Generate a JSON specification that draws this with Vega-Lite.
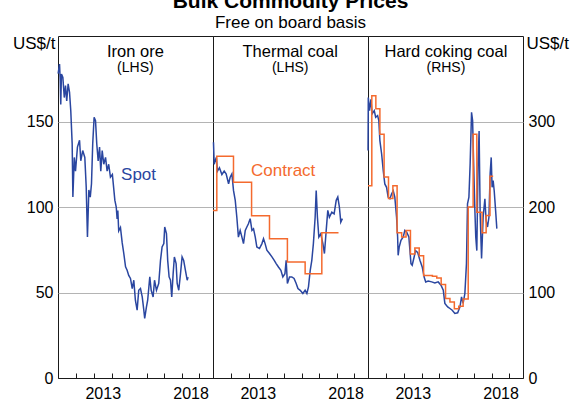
{
  "$schema": "https://vega.github.io/schema/vega-lite/v6.json",
  "background": "white",
  "padding": {"left": 11, "top": -10, "right": 0, "bottom": 0},
  "bounds": "flush",
  "title": {
    "text": "Bulk Commodity Prices",
    "subtitle": "Free on board basis",
    "anchor": "middle",
    "fontSize": 21,
    "fontWeight": "bold",
    "subtitleFontSize": 17,
    "subtitlePadding": 3,
    "offset": 3,
    "color": "#000000",
    "subtitleColor": "#000000"
  },
  "spacing": 0,
  "datasets": {
    "iron": [
      {"t": 2010.96, "v": 178}, {"t": 2011.04, "v": 183.6}, {"t": 2011.08, "v": 173.9}, {"t": 2011.11, "v": 160},
      {"t": 2011.15, "v": 177.8}, {"t": 2011.23, "v": 175.8}, {"t": 2011.31, "v": 164}, {"t": 2011.38, "v": 171},
      {"t": 2011.45, "v": 162}, {"t": 2011.53, "v": 172}, {"t": 2011.61, "v": 167}, {"t": 2011.68, "v": 156.4},
      {"t": 2011.76, "v": 137}, {"t": 2011.80, "v": 105.8}, {"t": 2011.88, "v": 129}, {"t": 2011.95, "v": 121},
      {"t": 2012.06, "v": 135}, {"t": 2012.18, "v": 139}, {"t": 2012.25, "v": 127}, {"t": 2012.36, "v": 133},
      {"t": 2012.48, "v": 129}, {"t": 2012.56, "v": 111.6}, {"t": 2012.63, "v": 82.4}, {"t": 2012.71, "v": 110},
      {"t": 2012.79, "v": 105.8}, {"t": 2012.86, "v": 113.6}, {"t": 2012.93, "v": 137}, {"t": 2013.01, "v": 152.5},
      {"t": 2013.09, "v": 150.5}, {"t": 2013.16, "v": 137}, {"t": 2013.24, "v": 127}, {"t": 2013.32, "v": 135},
      {"t": 2013.39, "v": 121}, {"t": 2013.47, "v": 133}, {"t": 2013.56, "v": 125}, {"t": 2013.66, "v": 129},
      {"t": 2013.75, "v": 121}, {"t": 2013.84, "v": 125}, {"t": 2013.94, "v": 117.5}, {"t": 2014.05, "v": 119},
      {"t": 2014.19, "v": 104}, {"t": 2014.27, "v": 100}, {"t": 2014.32, "v": 93}, {"t": 2014.36, "v": 98},
      {"t": 2014.41, "v": 86}, {"t": 2014.51, "v": 88}, {"t": 2014.61, "v": 79}, {"t": 2014.70, "v": 72.8},
      {"t": 2014.80, "v": 65}, {"t": 2014.89, "v": 63}, {"t": 2014.98, "v": 60}, {"t": 2015.08, "v": 58.2},
      {"t": 2015.18, "v": 52.3}, {"t": 2015.27, "v": 57.2}, {"t": 2015.36, "v": 45.5}, {"t": 2015.46, "v": 39.7},
      {"t": 2015.55, "v": 51.3}, {"t": 2015.65, "v": 52.3}, {"t": 2015.75, "v": 47.4}, {"t": 2015.84, "v": 39.7},
      {"t": 2015.89, "v": 34.8}, {"t": 2015.99, "v": 41.6}, {"t": 2016.06, "v": 45.5}, {"t": 2016.18, "v": 59.1},
      {"t": 2016.26, "v": 51.3}, {"t": 2016.37, "v": 47.4}, {"t": 2016.45, "v": 57.2}, {"t": 2016.56, "v": 51.3},
      {"t": 2016.69, "v": 55.3}, {"t": 2016.79, "v": 68.8}, {"t": 2016.88, "v": 76.6}, {"t": 2016.98, "v": 78.6},
      {"t": 2017.03, "v": 88.3}, {"t": 2017.13, "v": 84.4}, {"t": 2017.20, "v": 68.8}, {"t": 2017.28, "v": 59.1},
      {"t": 2017.36, "v": 57.2}, {"t": 2017.43, "v": 47.4}, {"t": 2017.51, "v": 61}, {"t": 2017.58, "v": 70.8},
      {"t": 2017.68, "v": 66.9}, {"t": 2017.74, "v": 55.3}, {"t": 2017.83, "v": 51.3}, {"t": 2017.93, "v": 61},
      {"t": 2018.02, "v": 70.8}, {"t": 2018.11, "v": 68.8}, {"t": 2018.21, "v": 63}, {"t": 2018.31, "v": 57.2},
      {"t": 2018.36, "v": 59}
    ],
    "thermalSpot": [
      {"t": 2010.98, "v": 137.9}, {"t": 2011.02, "v": 125}, {"t": 2011.14, "v": 129}, {"t": 2011.21, "v": 121},
      {"t": 2011.32, "v": 123}, {"t": 2011.46, "v": 119}, {"t": 2011.59, "v": 121}, {"t": 2011.70, "v": 119.4},
      {"t": 2011.84, "v": 113.6}, {"t": 2011.93, "v": 117.4}, {"t": 2012.03, "v": 119.4}, {"t": 2012.12, "v": 109.7},
      {"t": 2012.22, "v": 103.9}, {"t": 2012.31, "v": 94}, {"t": 2012.40, "v": 82.4}, {"t": 2012.50, "v": 86.3},
      {"t": 2012.60, "v": 82.4}, {"t": 2012.69, "v": 78.6}, {"t": 2012.79, "v": 86.3}, {"t": 2012.88, "v": 88.3},
      {"t": 2012.97, "v": 90.2}, {"t": 2013.07, "v": 93.2}, {"t": 2013.17, "v": 86.3}, {"t": 2013.26, "v": 87.3},
      {"t": 2013.36, "v": 82.4}, {"t": 2013.45, "v": 76.6}, {"t": 2013.60, "v": 75.7}, {"t": 2013.74, "v": 78.6},
      {"t": 2013.83, "v": 81.5}, {"t": 2013.92, "v": 78.6}, {"t": 2014.02, "v": 74.7}, {"t": 2014.17, "v": 72.8},
      {"t": 2014.31, "v": 70.8}, {"t": 2014.44, "v": 68.8}, {"t": 2014.55, "v": 66.9}, {"t": 2014.68, "v": 64.9},
      {"t": 2014.82, "v": 63}, {"t": 2014.93, "v": 59.1}, {"t": 2015.05, "v": 61}, {"t": 2015.12, "v": 68.8},
      {"t": 2015.19, "v": 55.3}, {"t": 2015.31, "v": 59.1}, {"t": 2015.44, "v": 59.1}, {"t": 2015.57, "v": 58.2},
      {"t": 2015.69, "v": 55.3}, {"t": 2015.79, "v": 52.3}, {"t": 2015.92, "v": 51.3}, {"t": 2016.07, "v": 49.4},
      {"t": 2016.20, "v": 51.3}, {"t": 2016.30, "v": 49.4}, {"t": 2016.39, "v": 53.3}, {"t": 2016.49, "v": 63},
      {"t": 2016.58, "v": 68.8}, {"t": 2016.67, "v": 78.6}, {"t": 2016.77, "v": 94}, {"t": 2016.83, "v": 109.7},
      {"t": 2016.90, "v": 94}, {"t": 2016.98, "v": 82.4}, {"t": 2017.09, "v": 84.3}, {"t": 2017.21, "v": 78.6},
      {"t": 2017.30, "v": 72.8}, {"t": 2017.40, "v": 86.3}, {"t": 2017.49, "v": 98}, {"t": 2017.58, "v": 94},
      {"t": 2017.72, "v": 97}, {"t": 2017.85, "v": 96}, {"t": 2017.97, "v": 103.9}, {"t": 2018.06, "v": 105.8},
      {"t": 2018.15, "v": 100}, {"t": 2018.23, "v": 91.2}, {"t": 2018.32, "v": 93.2}
    ],
    "thermalContract": [
      {"t": 2010.953, "v": 98}, {"t": 2011.17, "v": 129.7}, {"t": 2012.12, "v": 114.5}, {"t": 2013.15, "v": 94.9},
      {"t": 2014.17, "v": 81.5}, {"t": 2015.19, "v": 67.9}, {"t": 2016.20, "v": 61}, {"t": 2017.15, "v": 85},
      {"t": 2018.10, "v": 85}
    ],
    "hccSpot": [
      {"t": 2010.955, "v": 266}, {"t": 2010.97, "v": 328}, {"t": 2011.04, "v": 312.7}, {"t": 2011.12, "v": 326},
      {"t": 2011.19, "v": 309}, {"t": 2011.31, "v": 312.7}, {"t": 2011.39, "v": 305}, {"t": 2011.50, "v": 307},
      {"t": 2011.57, "v": 301}, {"t": 2011.63, "v": 277.7}, {"t": 2011.73, "v": 262}, {"t": 2011.82, "v": 242.7},
      {"t": 2011.91, "v": 227}, {"t": 2012.01, "v": 223}, {"t": 2012.10, "v": 211.5}, {"t": 2012.20, "v": 209.6},
      {"t": 2012.30, "v": 215.5}, {"t": 2012.39, "v": 219}, {"t": 2012.48, "v": 211.5}, {"t": 2012.58, "v": 188},
      {"t": 2012.64, "v": 165}, {"t": 2012.67, "v": 143.5}, {"t": 2012.73, "v": 153}, {"t": 2012.83, "v": 161},
      {"t": 2012.96, "v": 165}, {"t": 2013.05, "v": 172.7}, {"t": 2013.15, "v": 170.7}, {"t": 2013.28, "v": 165},
      {"t": 2013.40, "v": 133.8}, {"t": 2013.47, "v": 131.9}, {"t": 2013.58, "v": 141.5}, {"t": 2013.66, "v": 149},
      {"t": 2013.78, "v": 147}, {"t": 2013.91, "v": 137.7}, {"t": 2014.04, "v": 129.9}, {"t": 2014.15, "v": 118},
      {"t": 2014.24, "v": 112.4}, {"t": 2014.38, "v": 113.5}, {"t": 2014.58, "v": 112.4}, {"t": 2014.76, "v": 111.2},
      {"t": 2014.95, "v": 112.4}, {"t": 2015.11, "v": 108.5}, {"t": 2015.24, "v": 102.7}, {"t": 2015.33, "v": 87.2},
      {"t": 2015.49, "v": 83.2}, {"t": 2015.62, "v": 81.3}, {"t": 2015.75, "v": 79.3}, {"t": 2015.90, "v": 75.5},
      {"t": 2016.06, "v": 76.2}, {"t": 2016.19, "v": 83.2}, {"t": 2016.28, "v": 94.9}, {"t": 2016.37, "v": 87.2},
      {"t": 2016.47, "v": 98.8}, {"t": 2016.56, "v": 133.8}, {"t": 2016.62, "v": 203.8}, {"t": 2016.70, "v": 211.6},
      {"t": 2016.77, "v": 250.5}, {"t": 2016.85, "v": 310.7}, {"t": 2016.91, "v": 301}, {"t": 2016.96, "v": 258},
      {"t": 2017.04, "v": 196}, {"t": 2017.09, "v": 165}, {"t": 2017.15, "v": 149}, {"t": 2017.22, "v": 250.5},
      {"t": 2017.28, "v": 289}, {"t": 2017.34, "v": 192}, {"t": 2017.42, "v": 139.7}, {"t": 2017.51, "v": 188},
      {"t": 2017.61, "v": 209.6}, {"t": 2017.68, "v": 184}, {"t": 2017.76, "v": 176.6}, {"t": 2017.84, "v": 188},
      {"t": 2017.91, "v": 239}, {"t": 2017.97, "v": 258}, {"t": 2018.02, "v": 223}, {"t": 2018.08, "v": 231},
      {"t": 2018.14, "v": 219}, {"t": 2018.22, "v": 196}, {"t": 2018.29, "v": 174.7}
    ],
    "hccContract": [
      {"t": 2010.953, "v": 225}, {"t": 2011.17, "v": 330}, {"t": 2011.40, "v": 315}, {"t": 2011.63, "v": 285},
      {"t": 2011.87, "v": 235}, {"t": 2012.12, "v": 210}, {"t": 2012.37, "v": 225}, {"t": 2012.61, "v": 170},
      {"t": 2012.87, "v": 165}, {"t": 2013.12, "v": 172.5}, {"t": 2013.37, "v": 145}, {"t": 2013.62, "v": 152},
      {"t": 2013.87, "v": 143}, {"t": 2014.12, "v": 120}, {"t": 2014.37, "v": 120}, {"t": 2014.62, "v": 119},
      {"t": 2014.87, "v": 117}, {"t": 2015.12, "v": 109.5}, {"t": 2015.37, "v": 93}, {"t": 2015.62, "v": 89},
      {"t": 2015.87, "v": 81}, {"t": 2016.12, "v": 84}, {"t": 2016.37, "v": 92.5}, {"t": 2016.66, "v": 200},
      {"t": 2016.94, "v": 285}, {"t": 2017.15, "v": 194}, {"t": 2017.45, "v": 170}, {"t": 2017.68, "v": 190},
      {"t": 2017.90, "v": 236}, {"t": 2018.08, "v": 236}
    ]
  },
  "hconcat": [
    {
      "width": 155,
      "height": 342,
      "encoding": {
        "x": {
          "field": "t", "type": "quantitative",
          "scale": {"domain": [2010.953, 2019.78], "nice": false, "zero": false},
          "axis": {
            "title": null, "values": [2012, 2013, 2014, 2015, 2016, 2017, 2018, 2019],
            "tickSize": -5, "labelOffset": 8.8, "labelFlush": false, "labelOverlap": false,
            "labelExpr": "datum.value == 2013 || datum.value == 2018 ? format(datum.value, 'd') : ''",
            "labelPadding": 12, "grid": false
          }
        },
        "y": {
          "field": "v", "type": "quantitative",
          "scale": {"domain": [0, 200], "nice": false},
          "axis": {
            "orient": "left", "values": [0, 50, 100, 150], "grid": true, "ticks": false, "domain": false,
            "gridColor": {"condition": {"test": "datum.value === 0", "value": null}, "value": "#b4b4b4"},
            "labelPadding": 5,
            "title": "US$/t", "titleAngle": 0, "titleAlign": "right", "titleBaseline": "middle",
            "titleX": -3, "titleY": 7
          }
        }
      },
      "layer": [
        {"data": {"name": "iron"}, "mark": {"type": "line", "color": "#2a46a0", "strokeWidth": 1.5}},
        {"data": {"values": [{"t": 2015.36, "v": 187.5, "label": "Iron ore"}]},
         "mark": {"type": "text", "fontSize": 16.5, "color": "#000000"}, "encoding": {"text": {"field": "label"}}},
        {"data": {"values": [{"t": 2015.36, "v": 178.8, "label": "(LHS)"}]},
         "mark": {"type": "text", "fontSize": 14, "color": "#000000"}, "encoding": {"text": {"field": "label"}}},
        {"data": {"values": [{"t": 2015.54, "v": 115.5, "label": "Spot"}]},
         "mark": {"type": "text", "fontSize": 17, "color": "#2a46a0"}, "encoding": {"text": {"field": "label"}}}
      ]
    },
    {
      "width": 155,
      "height": 342,
      "encoding": {
        "x": {
          "field": "t", "type": "quantitative",
          "scale": {"domain": [2010.953, 2019.78], "nice": false, "zero": false},
          "axis": {
            "title": null, "values": [2012, 2013, 2014, 2015, 2016, 2017, 2018, 2019],
            "tickSize": -5, "labelOffset": 8.8, "labelFlush": false, "labelOverlap": false,
            "labelExpr": "datum.value == 2013 || datum.value == 2018 ? format(datum.value, 'd') : ''",
            "labelPadding": 12, "grid": false
          }
        },
        "y": {
          "field": "v", "type": "quantitative",
          "scale": {"domain": [0, 200], "nice": false},
          "axis": {
            "values": [50, 100, 150], "grid": true, "ticks": false, "domain": false, "labels": false,
            "gridColor": "#b4b4b4", "title": null
          }
        }
      },
      "layer": [
        {"data": {"name": "thermalSpot"}, "mark": {"type": "line", "color": "#2a46a0", "strokeWidth": 1.5}},
        {"data": {"name": "thermalContract"}, "mark": {"type": "line", "color": "#f46a2e", "strokeWidth": 1.5, "interpolate": "step-after"}},
        {"data": {"values": [{"t": 2015.35, "v": 187.5, "label": "Thermal coal"}]},
         "mark": {"type": "text", "fontSize": 16.5, "color": "#000000"}, "encoding": {"text": {"field": "label"}}},
        {"data": {"values": [{"t": 2015.35, "v": 178.8, "label": "(LHS)"}]},
         "mark": {"type": "text", "fontSize": 14, "color": "#000000"}, "encoding": {"text": {"field": "label"}}},
        {"data": {"values": [{"t": 2014.95, "v": 118.4, "label": "Contract"}]},
         "mark": {"type": "text", "fontSize": 17, "color": "#f46a2e"}, "encoding": {"text": {"field": "label"}}}
      ]
    },
    {
      "width": 155,
      "height": 342,
      "encoding": {
        "x": {
          "field": "t", "type": "quantitative",
          "scale": {"domain": [2010.953, 2019.78], "nice": false, "zero": false},
          "axis": {
            "title": null, "values": [2012, 2013, 2014, 2015, 2016, 2017, 2018, 2019],
            "tickSize": -5, "labelOffset": 8.8, "labelFlush": false, "labelOverlap": false,
            "labelExpr": "datum.value == 2013 || datum.value == 2018 ? format(datum.value, 'd') : ''",
            "labelPadding": 12, "grid": false
          }
        },
        "y": {
          "field": "v", "type": "quantitative",
          "scale": {"domain": [0, 400], "nice": false},
          "axis": {
            "orient": "right", "values": [0, 100, 200, 300], "grid": true, "ticks": false, "domain": false,
            "gridColor": {"condition": {"test": "datum.value === 0", "value": null}, "value": "#b4b4b4"},
            "labelPadding": 5,
            "title": "US$/t", "titleAngle": 0, "titleAlign": "left", "titleBaseline": "middle",
            "titleX": 3, "titleY": 7
          }
        }
      },
      "layer": [
        {"data": {"name": "hccSpot"}, "mark": {"type": "line", "color": "#2a46a0", "strokeWidth": 1.5}},
        {"data": {"name": "hccContract"}, "mark": {"type": "line", "color": "#f46a2e", "strokeWidth": 1.5, "interpolate": "step-after"}},
        {"data": {"values": [{"t": 2015.39, "v": 375, "label": "Hard coking coal"}]},
         "mark": {"type": "text", "fontSize": 16.5, "color": "#000000"}, "encoding": {"text": {"field": "label"}}},
        {"data": {"values": [{"t": 2015.39, "v": 357.6, "label": "(RHS)"}]},
         "mark": {"type": "text", "fontSize": 14, "color": "#000000"}, "encoding": {"text": {"field": "label"}}}
      ]
    }
  ],
  "config": {
    "font": "Liberation Sans",
    "view": {"stroke": "#1a1a1a", "strokeWidth": 1},
    "axis": {
      "labelFont": "Liberation Sans", "labelFontSize": 16, "labelColor": "#000000",
      "titleFont": "Liberation Sans", "titleFontSize": 17, "titleFontWeight": "normal", "titleColor": "#000000",
      "domainColor": "#1a1a1a", "tickColor": "#1a1a1a"
    },
    "text": {"font": "Liberation Sans", "baseline": "alphabetic", "align": "center"},
    "title": {"font": "Liberation Sans", "subtitleFont": "Liberation Sans"}
  }
}
